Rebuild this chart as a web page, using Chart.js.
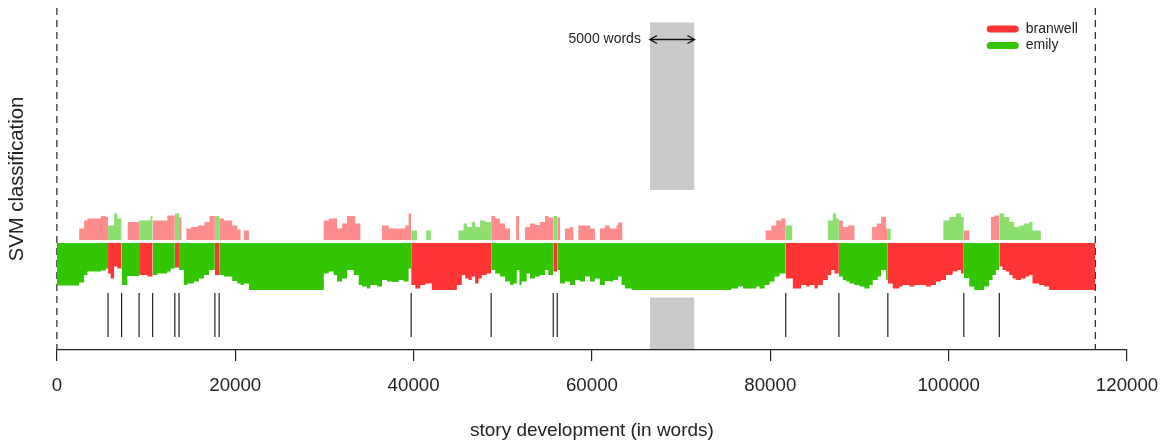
<!DOCTYPE html>
<html>
<head>
<meta charset="utf-8">
<script src="https://cdn.jsdelivr.net/npm/chart.js@4/dist/chart.umd.min.js"></script>
<style>html,body{margin:0;padding:0;background:#fff}canvas{display:block}</style>
</head>
<body>
<canvas id="c" width="1172" height="443"></canvas>
<script>
// ---- data ----
const authors = ['branwell', 'emily'];
const firstAuthor = 1;            // the text starts classified as "emily"
const textEnd = 116450;           // length of the text (words)
const changePoints = [5740, 7260, 9220, 10740, 13230, 13700, 17720, 18200, 39730, 48700,
                      55660, 56110, 81730, 87690, 93180, 101700, 105680];
// main classification strength (stripe depth) : start word of each step, value
const edgeAt = [0,2500,3060,3430,4930,5490,5740,6040,6420,6790,7260,7910,9220,10150,10740,11270,12390,12760,
  13230,13700,14250,14630,15370,15930,16490,17050,17720,18200,18730,19660,20220,20600,20970,21530,
  29930,30490,31050,31420,31980,32540,33290,33850,34220,34780,35150,35900,36460,37020,37580,38320,38880,39440,
  39730,40190,40750,41310,42050,44850,45410,45780,46160,46530,46900,47280,47650,48210,
  48700,49140,49700,50260,50820,51190,51570,51870,52120,52680,53060,53620,54180,54740,55110,
  55660,56110,56420,56980,57540,58100,58660,59220,59780,60330,60890,61450,62010,62390,62950,63320,63690,64440,
  75630,76380,76940,78430,78800,79360,79920,80480,81040,
  81730,82530,83470,84030,84400,84960,85330,85890,86450,86830,87200,
  87690,88130,88500,88880,89430,89990,90550,91120,91490,92050,92420,92980,
  93180,93730,94480,94850,95600,96160,97460,98020,98580,99140,99700,100440,101000,101380,
  101700,102310,102870,103990,104550,104920,105300,
  105680,106040,106410,106790,107160,107530,108100,108650,109030,109400,110140,110700,111260];
const edgeDepth = [0.85,0.79,0.64,0.57,0.55,0.51,0.61,0.71,0.47,0.51,0.84,0.66,0.64,0.67,0.64,0.61,0.57,0.51,
  0.49,0.54,0.84,0.81,0.77,0.71,0.64,0.54,0.64,0.64,0.67,0.76,0.81,0.84,0.81,0.94,
  0.61,0.57,0.64,0.77,0.71,0.54,0.64,0.84,0.87,0.91,0.84,0.87,0.74,0.77,0.78,0.74,0.77,0.51,
  0.84,0.91,0.84,0.81,0.94,0.84,0.64,0.71,0.74,0.67,0.81,0.71,0.64,0.61,
  0.54,0.61,0.67,0.77,0.84,0.81,0.54,0.84,0.77,0.61,0.71,0.67,0.64,0.54,0.64,
  0.57,0.54,0.81,0.77,0.84,0.74,0.77,0.67,0.77,0.71,0.84,0.76,0.77,0.74,0.67,0.84,0.91,0.94,
  0.91,0.87,0.91,0.87,0.91,0.84,0.77,0.67,0.61,
  0.71,0.91,0.84,0.87,0.84,0.91,0.84,0.74,0.64,0.54,0.61,
  0.67,0.74,0.77,0.81,0.84,0.87,0.91,0.84,0.74,0.67,0.54,0.74,
  0.81,0.91,0.87,0.84,0.87,0.84,0.87,0.84,0.77,0.74,0.64,0.57,0.54,0.61,
  0.70,0.87,0.94,0.87,0.74,0.64,0.54,
  0.47,0.54,0.57,0.64,0.71,0.74,0.71,0.67,0.64,0.81,0.84,0.87,0.94];
// second-choice strength (bars above the stripe) : start word of each step, value (0 = none)
const topAt = [0,2500,3060,3430,4930,5490,5740,6420,6790,7260,7960,9220,10520,10740,12390,13230,13700,13960,
  14520,15070,15810,16560,17120,18200,18730,19660,20220,20600,20970,21530,
  29930,30490,31420,31980,32540,33470,34030,36460,37210,39070,39440,39730,40380,41420,41940,
  45040,45600,45970,46530,46900,47460,48020,48700,49140,49700,50260,50820,51490,51830,
  52500,53060,53620,54180,54740,55110,55660,56110,56420,56980,57540,57910,58470,59780,60330,60890,
  61450,62010,62760,62950,63400,79480,80110,80670,81230,81730,82460,
  86450,87010,87380,87690,88130,88690,89430,91410,91940,92420,92980,93500,
  99400,100070,100820,101380,101700,102310,104740,105110,105680,106230,106790,107350,107910,108470,109030,109400,110330];
const topHeight = [0,0.23,0.39,0.43,0.48,0.46,0.29,0.53,0.43,0,0.36,0.39,0.48,0.39,0.49,0.53,0.45,0,
  0.23,0.26,0.29,0.36,0.48,0.43,0.39,0.29,0.21,0,0.19,0,
  0.39,0.43,0.23,0.33,0.48,0.33,0,0.29,0.23,0.29,0.53,0.19,0,0.19,0,
  0.19,0.33,0.26,0.36,0.26,0.39,0.36,0.48,0.43,0.33,0.23,0,0.48,0,
  0.26,0.33,0.30,0.36,0.48,0.45,0.48,0.45,0,0.23,0.26,0,0.29,0.23,0,0.23,
  0.29,0.23,0.29,0.35,0,0.19,0.29,0.39,0.43,0.29,0,
  0.39,0.53,0.43,0.39,0.26,0.29,0,0.26,0.33,0.46,0.23,0,
  0.39,0.46,0.53,0.46,0.19,0,0.46,0.49,0.53,0.46,0.36,0.26,0.29,0.33,0.36,0.19,0];
const windowStart = 66500, windowEnd = 71500;   // 5000-word sample window
const windowLabel = '5000 words';
const xTicks = [0, 20000, 40000, 60000, 80000, 100000, 120000];

// ---- styling ----
const mainColors = ['#FF3535', '#33C600'];
const secondColors = ['rgba(255,53,53,0.57)', 'rgba(51,198,0,0.57)'];
const greyFill = '#C9C9C9';
const ink = '#222222';
const Y_MIN = -2.14, Y_MAX = 4.70;
const topBase = 0.06;
const winTop = 4.41, winBottom = 1.06, winLowTop = -1.09;
const cpTop = -1.0, cpBottom = -1.88;
const arrowY = 4.07;

Chart.defaults.font.family = '"Liberation Sans", Arial, Helvetica, sans-serif';
Chart.defaults.color = ink;

function valueAt(atArr, valArr, x) {
  let v = valArr[0];
  for (let i = 0; i < atArr.length; i++) { if (atArr[i] <= x) v = valArr[i]; else break; }
  return v;
}

const datasets = [];
const bounds = [0, ...changePoints, textEnd];
for (let r = 0; r < bounds.length - 1; r++) {
  const a = bounds[r], b = bounds[r + 1];
  const who = (firstAuthor + r) % 2, other = 1 - who;
  const xs1 = [a, ...edgeAt.filter(v => v > a && v < b)];
  const p1 = xs1.map(x => ({x, y: -valueAt(edgeAt, edgeDepth, x)}));
  p1.push({x: b, y: p1[p1.length - 1].y});
  datasets.push({label: authors[who], data: p1, stepped: true, fill: {value: 0},
    backgroundColor: mainColors[who], borderColor: 'rgba(0,0,0,0)', borderWidth: 0, pointRadius: 0});
  const xs2 = [a, ...topAt.filter(v => v > a && v < b)];
  const p2 = xs2.map(x => ({x, y: topBase + valueAt(topAt, topHeight, x)}));
  p2.push({x: b, y: p2[p2.length - 1].y});
  datasets.push({label: authors[other] + ' (2nd)', data: p2, stepped: true, fill: {value: topBase},
    backgroundColor: secondColors[other], borderColor: 'rgba(0,0,0,0)', borderWidth: 0, pointRadius: 0});
}
// change-point markers
const cpData = [];
changePoints.forEach(c => { cpData.push({x: c, y: cpTop}, {x: c, y: cpBottom}, {x: c, y: null}); });
datasets.push({label: 'breaks', data: cpData, borderColor: ink, borderWidth: 1.2, pointRadius: 0, spanGaps: false, fill: false});
// start / end of text
datasets.push({label: 'limits', data: [{x: 0, y: Y_MAX}, {x: 0, y: Y_MIN}, {x: 0, y: null},
  {x: textEnd, y: Y_MAX}, {x: textEnd, y: Y_MIN}], borderColor: '#333', borderWidth: 1.3,
  borderDash: [7, 5], pointRadius: 0, spanGaps: false, fill: false, clip: false});
// window size indicator
datasets.push({label: 'win', data: [{x: windowStart, y: winTop}, {x: windowEnd, y: winTop}], fill: {value: winBottom},
  backgroundColor: greyFill, borderColor: 'rgba(0,0,0,0)', borderWidth: 0, pointRadius: 0, order: 2});
datasets.push({label: 'win2', data: [{x: windowStart, y: winLowTop}, {x: windowEnd, y: winLowTop}], fill: {value: Y_MIN + 0.02},
  backgroundColor: greyFill, borderColor: 'rgba(0,0,0,0)', borderWidth: 0, pointRadius: 0, order: 2});
const hx = 800, hy = 0.08;
datasets.push({label: 'arrow', order: -1, data: [
  {x: windowStart, y: arrowY}, {x: windowEnd, y: arrowY}, {x: windowEnd, y: null},
  {x: windowStart + hx, y: arrowY + hy}, {x: windowStart, y: arrowY}, {x: windowStart + hx, y: arrowY - hy}, {x: windowStart, y: null},
  {x: windowEnd - hx, y: arrowY + hy}, {x: windowEnd, y: arrowY}, {x: windowEnd - hx, y: arrowY - hy}],
  borderColor: '#111', borderWidth: 1.4, pointRadius: 0, spanGaps: false, fill: false});

const annot = {
  id: 'annot',
  beforeDraw(chart) {
    const lg = chart.legend, ca = chart.chartArea;
    if (lg) {
      lg.left = ca.right - 142.8; lg.top = ca.top + 11.5;
      lg.right = lg.left + 120; lg.bottom = lg.top + 80;
    }
  },
  afterDatasetsDraw(chart) {
    const {ctx, scales: {x, y}} = chart;
    ctx.save();
    ctx.font = '14px "Liberation Sans", Arial, sans-serif';
    ctx.fillStyle = ink; ctx.textAlign = 'right'; ctx.textBaseline = 'middle';
    ctx.fillText(windowLabel, x.getPixelForValue(windowStart) - 9, y.getPixelForValue(arrowY));
    ctx.restore();
  }
};

new Chart(document.getElementById('c'), {
  type: 'line',
  data: {datasets},
  options: {
    responsive: false, animation: false, devicePixelRatio: 1, events: [],
    layout: {padding: {left: 3.6, right: 44, top: 8, bottom: 0}},
    plugins: {
      tooltip: {enabled: false},
      legend: {
        position: 'chartArea', align: 'start',
        labels: {
          boxWidth: 32, boxHeight: 7, padding: 2.5, color: ink,
          font: {size: 14},
          generateLabels: () => authors.map((a, i) => ({text: a, fillStyle: mainColors[i], strokeStyle: mainColors[i],
            lineWidth: 0, borderRadius: 3.5, hidden: false, datasetIndex: i, fontColor: ink}))
        }
      }
    },
    scales: {
      x: {
        type: 'linear', min: 0, max: 120000,
        afterBuildTicks: s => { s.ticks = xTicks.map(v => ({value: v})); },
        ticks: {callback: v => String(v), maxRotation: 0, autoSkip: false, padding: 13.8, font: {size: 18.7}, color: ink},
        grid: {display: true, drawOnChartArea: false, drawTicks: true, tickLength: 11, color: ink, lineWidth: 1.2},
        border: {display: true, color: ink, width: 1.2},
        title: {display: true, text: 'story development (in words)', font: {size: 19}, color: ink, padding: {top: 8.56, bottom: 0.6}}
      },
      y: {
        min: Y_MIN, max: Y_MAX,
        ticks: {display: false},
        grid: {display: false, drawTicks: false},
        border: {display: false},
        title: {display: true, text: 'SVM classification', font: {size: 20.3}, color: ink, padding: {top: 1.3, bottom: 27.6}}
      }
    }
  },
  plugins: [annot]
});
</script>
</body>
</html>
